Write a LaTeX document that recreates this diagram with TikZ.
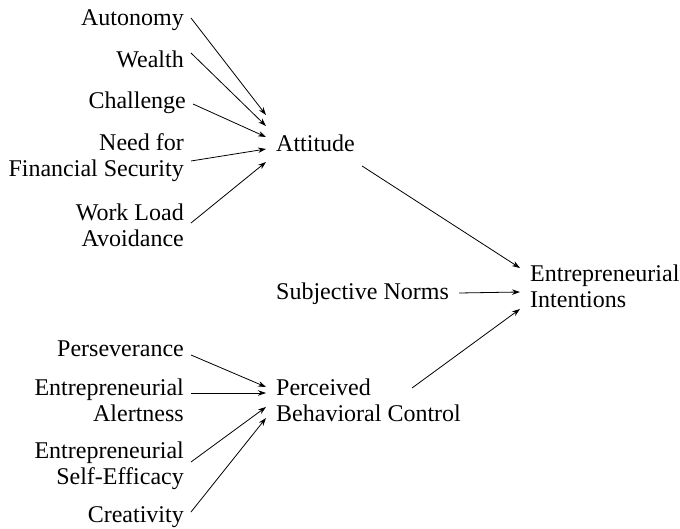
\documentclass[tikz,border=0pt]{standalone}
\usepackage{fontspec}
\setmainfont{Liberation Serif}
\usetikzlibrary{arrows.meta}

\begin{document}
\begin{tikzpicture}[x=1pt, y=-1pt,
src/.style={anchor=east, align=right, inner xsep=7pt, inner ysep=0pt, font=\fontsize{24}{26}\selectfont},
tgt/.style={anchor=west, align=left, inner xsep=10pt, inner ysep=0pt, font=\fontsize{24}{26}\selectfont},
link/.style={draw, line width=0.8pt, -{Stealth[length=8pt, width=5.5pt]}}]
\useasboundingbox (0,0) rectangle (680,529);
% antecedents of attitude
\node [src] (aut) at (191,20) {Autonomy};
\node [src] (wea) at (191,59) {Wealth};
\node [src] (cha) at (193,103) {Challenge};
\node [src] (fin) at (191,158) {Need for\\Financial Security};
\node [src] (wor) at (191,225) {Work Load\\Avoidance};
% antecedents of perceived behavioral control
\node [src] (per) at (191,349) {Perseverance};
\node [src] (ale) at (191,400) {Entrepreneurial\\Alertness};
\node [src] (eff) at (191,466) {Entrepreneurial\\Self-Efficacy};
\node [src] (cre) at (191,517) {Creativity};
% middle and right
\node [tgt] (att) at (266,143) {Attitude};
\node [tgt] (sub) at (266,294) {Subjective Norms};
\node [tgt] (pbc) at (266,400) {Perceived\\Behavioral Control};
\node [tgt] (int) at (520,286) {Entrepreneurial\\Intentions};

\path [link] ([yshift=2pt]aut.east) -- ([yshift=28pt]att.west);
\path [link] ([yshift=6pt]wea.east) -- ([yshift=17pt]att.west);
\path [link] ([yshift=-1pt]cha.east) -- ([yshift=6pt]att.west);
\path [link] ([yshift=-3pt]fin.east) -- ([yshift=-6pt]att.west);
\path [link] ([yshift=2pt]wor.east) -- ([yshift=-19pt]att.west);

\path [link] ([yshift=-6pt]per.east) -- ([yshift=13pt]pbc.west);
\path [link] ([yshift=7pt]ale.east) -- ([yshift=7pt]pbc.west);
\path [link] ([yshift=4pt]eff.east) -- ([yshift=-7pt]pbc.west);
\path [link] ([yshift=5pt]cre.east) -- ([yshift=-18pt]pbc.west);

\path [link] ([xshift=-3pt, yshift=-23pt]att.east) -- ([yshift=18pt]int.west);
\path [link] ([yshift=1pt]sub.east) -- ([yshift=-6pt]int.west);
\path [link] ([xshift=-59pt, yshift=12pt]pbc.east) -- ([yshift=-23pt]int.west);
\end{tikzpicture}
\end{document}
